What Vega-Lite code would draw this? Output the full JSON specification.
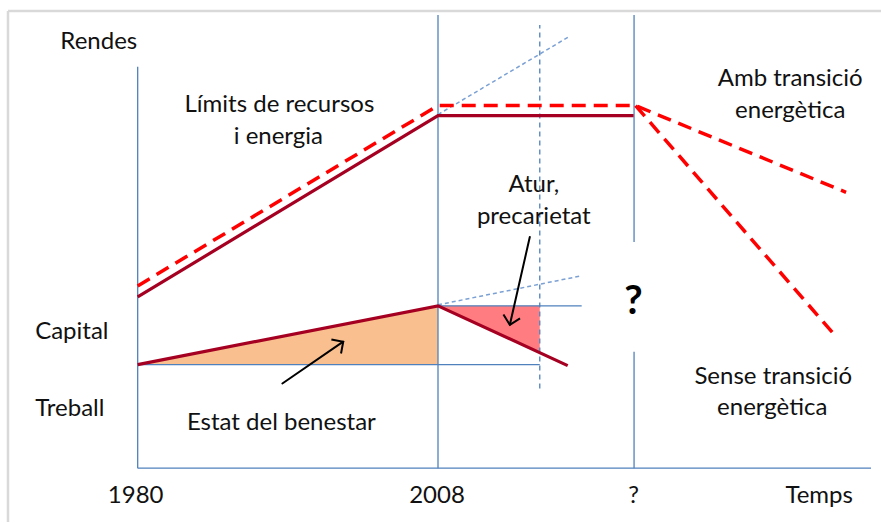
{
  "$schema": "https://vega.github.io/schema/vega-lite/v6.json",
  "width": 883,
  "height": 524,
  "autosize": {"type": "fit", "contains": "padding"},
  "padding": 0,
  "background": "white",
  "config": {"view": {"stroke": null}},
  "datasets": {
    "frame": [
      {"x": -130, "y": 459, "x2": 745, "y2": 459},
      {"x": -130, "y": 459, "x2": -130, "y2": -54}
    ],
    "blueRules": [
      {"x": 0, "y": 0, "x2": 0, "y2": 403},
      {"x": 0, "y": 0, "x2": 735, "y2": 0},
      {"x": 301, "y": 0, "x2": 301, "y2": 455},
      {"x": 497.5, "y": 227, "x2": 497.5, "y2": 455},
      {"x": 497.5, "y": 0, "x2": 497.5, "y2": 117},
      {"x": 0, "y": 104, "x2": 403, "y2": 104},
      {"x": 301, "y": 163, "x2": 445, "y2": 163}
    ],
    "blueDashed": [
      {"x": 403, "y": 80, "x2": 403, "y2": 445}
    ],
    "orangeArea": [
      {"x": 0, "y": 104, "y2": 104},
      {"x": 301, "y": 163, "y2": 104}
    ],
    "pinkArea": [
      {"x": 301, "y": 163, "y2": 163},
      {"x": 403, "y": 117, "y2": 163}
    ],
    "maroon": [
      {"s": "rendes", "i": 0, "x": 0, "y": 172},
      {"s": "rendes", "i": 1, "x": 301, "y": 354},
      {"s": "rendes", "i": 2, "x": 497, "y": 354},
      {"s": "capital", "i": 0, "x": 0, "y": 104},
      {"s": "capital", "i": 1, "x": 301, "y": 163},
      {"s": "capital", "i": 2, "x": 431, "y": 103}
    ],
    "redDashed": [
      {"s": "amb", "i": 0, "x": 0, "y": 183},
      {"s": "amb", "i": 1, "x": 301, "y": 364},
      {"s": "amb", "i": 2, "x": 499, "y": 364},
      {"s": "amb", "i": 3, "x": 710, "y": 277},
      {"s": "sense", "i": 0, "x": 499, "y": 364},
      {"s": "sense", "i": 1, "x": 700, "y": 132}
    ],
    "blueDotted": [
      {"s": "ext1", "i": 0, "x": 301, "y": 355},
      {"s": "ext1", "i": 1, "x": 432, "y": 433},
      {"s": "ext2", "i": 0, "x": 301, "y": 164},
      {"s": "ext2", "i": 1, "x": 444, "y": 193}
    ],
    "arrows": [
      {"id": 1, "x": 145, "y": 85, "x2": 206, "y2": 127},
      {"id": 2, "x": 393, "y": 232, "x2": 373, "y2": 144}
    ],
    "labels": [
      {"t": "Rendes", "x": -39, "y": 421},
      {"t": "Límits de recursos", "x": 142, "y": 358},
      {"t": "i energia", "x": 141, "y": 325},
      {"t": "Amb transició", "x": 654, "y": 384},
      {"t": "energètica", "x": 654, "y": 352},
      {"t": "Atur,", "x": 397, "y": 277},
      {"t": "precarietat", "x": 397, "y": 245},
      {"t": "Capital", "x": -66, "y": 130},
      {"t": "Treball", "x": -68, "y": 52},
      {"t": "Estat del benestar", "x": 144, "y": 38},
      {"t": "Sense transició", "x": 637, "y": 85},
      {"t": "energètica", "x": 636, "y": 53},
      {"t": "1980", "x": -2, "y": -35},
      {"t": "2008", "x": 300, "y": -35},
      {"t": "?", "x": 497, "y": -35},
      {"t": "Temps", "x": 683, "y": -35}
    ],
    "bigQ": [
      {"t": "?", "x": 497, "y": 155}
    ]
  },
  "encoding": {
    "x": {"field": "x", "type": "quantitative", "scale": {"domain": [-138, 745], "nice": false, "zero": false}, "axis": null},
    "y": {"field": "y", "type": "quantitative", "scale": {"domain": [-54, 470], "nice": false, "zero": false}, "axis": null}
  },
  "layer": [
    {
      "data": {"name": "frame"},
      "mark": {"type": "rule", "color": "#D9D9D9", "strokeWidth": 2.5},
      "encoding": {"x2": {"field": "x2"}, "y2": {"field": "y2"}}
    },
    {
      "data": {"name": "orangeArea"},
      "mark": {"type": "area", "color": "#F9BF8F", "opacity": 1},
      "encoding": {"y2": {"field": "y2"}}
    },
    {
      "data": {"name": "pinkArea"},
      "mark": {"type": "area", "color": "#FF7C80", "opacity": 1},
      "encoding": {"y2": {"field": "y2"}}
    },
    {
      "data": {"name": "blueRules"},
      "mark": {"type": "rule", "color": "#4F81BD", "strokeWidth": 1.3},
      "encoding": {"x2": {"field": "x2"}, "y2": {"field": "y2"}}
    },
    {
      "data": {"name": "blueDashed"},
      "mark": {"type": "rule", "color": "#4F81BD", "strokeWidth": 1.3, "strokeDash": [5, 4]},
      "encoding": {"x2": {"field": "x2"}, "y2": {"field": "y2"}}
    },
    {
      "data": {"name": "blueDotted"},
      "mark": {"type": "line", "color": "#7BA0D4", "strokeWidth": 1.5, "strokeDash": [4, 3]},
      "encoding": {"detail": {"field": "s"}, "order": {"field": "i"}}
    },
    {
      "data": {"name": "redDashed"},
      "mark": {"type": "line", "color": "#FF0000", "strokeWidth": 3.5, "strokeDash": [14, 8]},
      "encoding": {"detail": {"field": "s"}, "order": {"field": "i"}}
    },
    {
      "data": {"name": "maroon"},
      "mark": {"type": "line", "color": "#A50021", "strokeWidth": 3.2},
      "encoding": {"detail": {"field": "s"}, "order": {"field": "i"}}
    },
    {
      "data": {"name": "arrows"},
      "mark": {"type": "rule", "color": "#000000", "strokeWidth": 2, "strokeCap": "round"},
      "encoding": {"x2": {"field": "x2"}, "y2": {"field": "y2"}}
    },
    {
      "data": {"name": "arrows"},
      "transform": [{"filter": "datum.id == 1"}],
      "mark": {"type": "point", "shape": "M-1,-1L0,0L-1,1", "size": 289, "filled": false, "stroke": "#000000", "strokeWidth": 2, "opacity": 1, "angle": -34.5},
      "encoding": {"x": {"field": "x2", "type": "quantitative"}, "y": {"field": "y2", "type": "quantitative"}}
    },
    {
      "data": {"name": "arrows"},
      "transform": [{"filter": "datum.id == 2"}],
      "mark": {"type": "point", "shape": "M-1,-1L0,0L-1,1", "size": 289, "filled": false, "stroke": "#000000", "strokeWidth": 2, "opacity": 1, "angle": 102.8},
      "encoding": {"x": {"field": "x2", "type": "quantitative"}, "y": {"field": "y2", "type": "quantitative"}}
    },
    {
      "data": {"name": "labels"},
      "mark": {"type": "text", "font": "Lato", "fontSize": 24, "color": "#111111", "align": "center", "baseline": "alphabetic"},
      "encoding": {"text": {"field": "t"}}
    },
    {
      "data": {"name": "bigQ"},
      "mark": {"type": "text", "font": "Lato", "fontSize": 40, "fontWeight": "bold", "color": "#000000", "align": "center", "baseline": "alphabetic"},
      "encoding": {"text": {"field": "t"}}
    }
  ]
}
